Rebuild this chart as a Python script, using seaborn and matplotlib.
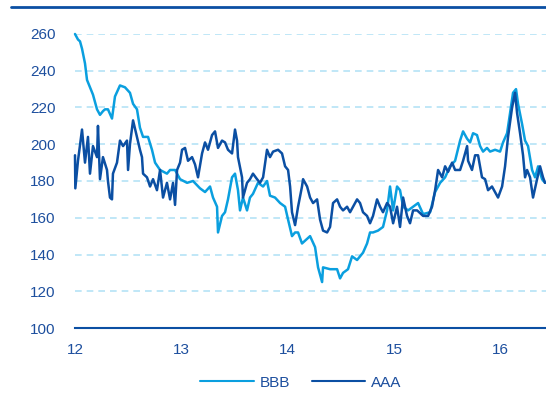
import pandas as pd
import matplotlib
matplotlib.use("Agg")
import matplotlib.pyplot as plt
import seaborn as sns
from matplotlib.lines import Line2D

# BBB series (year, spread)
bbb_x = [12.000, 12.028, 12.047, 12.066, 12.094, 12.113, 12.141, 12.169, 12.207, 12.235,
         12.263, 12.282, 12.310, 12.348, 12.376, 12.423, 12.470, 12.517, 12.546, 12.583,
         12.611, 12.640, 12.687, 12.724, 12.753, 12.800, 12.865, 12.894, 12.941, 12.988,
         13.054, 13.110, 13.176, 13.223, 13.270, 13.298, 13.336, 13.345, 13.383, 13.411,
         13.439, 13.477, 13.505, 13.533, 13.552, 13.580, 13.618, 13.646, 13.674, 13.721,
         13.769, 13.806, 13.834, 13.881, 13.929, 13.976, 14.004, 14.041, 14.070, 14.098,
         14.135, 14.211, 14.258, 14.286, 14.324, 14.333, 14.399, 14.465, 14.493, 14.521,
         14.568, 14.606, 14.653, 14.681, 14.709, 14.747, 14.775, 14.803, 14.850, 14.897,
         14.935, 14.963, 14.992, 15.029, 15.057, 15.086, 15.133, 15.180, 15.227, 15.274,
         15.340, 15.387, 15.434, 15.481, 15.528, 15.575, 15.622, 15.650, 15.688, 15.716,
         15.744, 15.781, 15.810, 15.838, 15.875, 15.904, 15.951, 15.998, 16.026, 16.064,
         16.092, 16.120, 16.148, 16.167, 16.205, 16.233, 16.261, 16.299, 16.327, 16.356,
         16.393, 16.421]
bbb_y = [260, 257, 256, 252, 244, 235, 231, 227, 219, 216,
         218, 219, 219, 214, 226, 232, 231, 228, 222, 219,
         209, 204, 204, 197, 190, 186, 184, 186, 186, 181,
         179, 180, 176, 174, 177, 171, 166, 152, 161, 163,
         170, 182, 184, 175, 164, 171, 164, 171, 173, 179,
         177, 180, 172, 171, 168, 166, 159, 150, 152, 152,
         146, 150, 144, 133, 125, 133, 132, 132, 127, 130,
         132, 139, 137, 139, 141, 146, 152, 152, 153, 155,
         164, 177, 164, 177, 175, 166, 164, 166, 168, 162,
         163, 174, 179, 182, 188, 191, 202, 207, 203, 201,
         206, 205, 199, 196, 198, 196, 197, 196, 201, 206,
         217, 228, 230, 222, 211, 202, 199, 186, 182, 188,
         181, 179]

# AAA series (year, spread)
aaa_x = [12.000, 12.003, 12.028, 12.066, 12.094, 12.122, 12.141, 12.169, 12.207, 12.216,
         12.235, 12.263, 12.301, 12.310, 12.329, 12.348, 12.357, 12.395, 12.423, 12.452,
         12.489, 12.499, 12.517, 12.546, 12.583, 12.611, 12.630, 12.640, 12.677, 12.706,
         12.734, 12.771, 12.800, 12.828, 12.865, 12.894, 12.922, 12.941, 12.960, 12.988,
         13.007, 13.035, 13.063, 13.101, 13.129, 13.157, 13.195, 13.223, 13.251, 13.289,
         13.317, 13.345, 13.383, 13.411, 13.439, 13.477, 13.505, 13.524, 13.533, 13.571,
         13.580, 13.618, 13.646, 13.674, 13.712, 13.740, 13.769, 13.806, 13.834, 13.863,
         13.910, 13.947, 13.976, 14.004, 14.023, 14.041, 14.070, 14.098, 14.135, 14.145,
         14.183, 14.211, 14.239, 14.277, 14.305, 14.333, 14.371, 14.399, 14.427, 14.465,
         14.493, 14.521, 14.559, 14.587, 14.615, 14.653, 14.681, 14.709, 14.747, 14.775,
         14.803, 14.841, 14.869, 14.897, 14.935, 14.963, 14.992, 15.029, 15.057, 15.086,
         15.123, 15.151, 15.180, 15.218, 15.274, 15.321, 15.358, 15.387, 15.415, 15.453,
         15.481, 15.509, 15.547, 15.575, 15.622, 15.650, 15.688, 15.697, 15.734, 15.763,
         15.791, 15.828, 15.857, 15.885, 15.922, 15.951, 15.979, 16.017, 16.045, 16.073,
         16.111, 16.139, 16.158, 16.186, 16.214, 16.233, 16.252, 16.280, 16.308, 16.346,
         16.374, 16.402, 16.421]
aaa_y = [194, 176, 191, 208, 190, 204, 184, 199, 193, 210,
         181, 193, 186, 180, 171, 170, 184, 190, 202, 199,
         202, 186, 200, 213, 204, 197, 193, 184, 182, 177,
         181, 175, 186, 171, 179, 170, 179, 167, 186, 190,
         197, 198, 191, 193, 189, 182, 195, 201, 197, 205,
         207, 198, 202, 201, 197, 195, 208, 202, 193, 182,
         171, 179, 181, 184, 181, 179, 182, 197, 193, 196,
         197, 195, 188, 186, 177, 163, 156, 166, 177, 181,
         177, 171, 168, 170, 159, 153, 152, 155, 168, 170,
         166, 164, 166, 163, 166, 170, 168, 163, 161, 157,
         161, 170, 166, 163, 168, 166, 157, 166, 155, 171,
         161, 157, 164, 164, 161, 161, 166, 175, 186, 182,
         188, 185, 190, 186, 186, 191, 199, 191, 186, 194,
         194, 182, 181, 175, 177, 174, 171, 177, 188, 204,
         220, 228, 217, 206, 194, 182, 186, 182, 171, 181,
         188, 182, 179]

x_ticks = [12, 13, 14, 15, 16]
y_ticks = [100, 120, 140, 160, 180, 200, 220, 240, 260]

light_blue = "#0a9fdf"
dark_blue = "#0b4fa3"
text_blue = "#1d4f9e"
grid_blue = "#b5e3f6"

sns.set_style("white")
plt.rcParams["font.family"] = ["Liberation Sans", "DejaVu Sans"]

df_bbb = pd.DataFrame({"x": bbb_x, "y": bbb_y})
df_aaa = pd.DataFrame({"x": aaa_x, "y": aaa_y})

fig = plt.figure(figsize=(5.46, 3.95), dpi=100)
ax = fig.add_axes([75 / 546, 1 - 328 / 395, 1 - 75 / 546, (328 - 34) / 395])

# dashed horizontal grid
for yv in y_ticks[1:]:
    ax.axhline(yv, color=grid_blue, lw=1.2, ls=(0, (4, 3)), zorder=0)

sns.lineplot(data=df_bbb, x="x", y="y", ax=ax, color=light_blue, lw=1.8,
             estimator=None, label="BBB", clip_on=False)
sns.lineplot(data=df_aaa, x="x", y="y", ax=ax, color=dark_blue, lw=1.8,
             estimator=None, label="AAA", clip_on=False)

ax.set_xlim(12, 16.43)
ax.set_ylim(100, 260)
ax.set_xticks(x_ticks)
ax.set_yticks(y_ticks)
ax.set_xlabel("")
ax.set_ylabel("")

for side in ["top", "right", "left"]:
    ax.spines[side].set_visible(False)
ax.spines["bottom"].set_color(dark_blue)
ax.spines["bottom"].set_linewidth(1.5)

ax.tick_params(axis="x", colors=text_blue, labelsize=11, length=4, width=1.2,
               direction="out", pad=7, color=dark_blue)
ax.tick_params(axis="y", colors=text_blue, labelsize=11, length=0, pad=14)

leg = ax.legend(loc="upper center", bbox_to_anchor=(0.48, -0.115), ncol=2,
                frameon=False, handlelength=3.5, columnspacing=1.4,
                fontsize=11, handletextpad=0.4)
for t in leg.get_texts():
    t.set_color(text_blue)
for h in leg.get_lines():
    h.set_linewidth(1.5)

# top border line
fig.add_artist(Line2D([11 / 546, 1], [1 - 6.5 / 395, 1 - 6.5 / 395],
                      transform=fig.transFigure, color=dark_blue, lw=2))

fig.savefig("out.png", dpi=100)
